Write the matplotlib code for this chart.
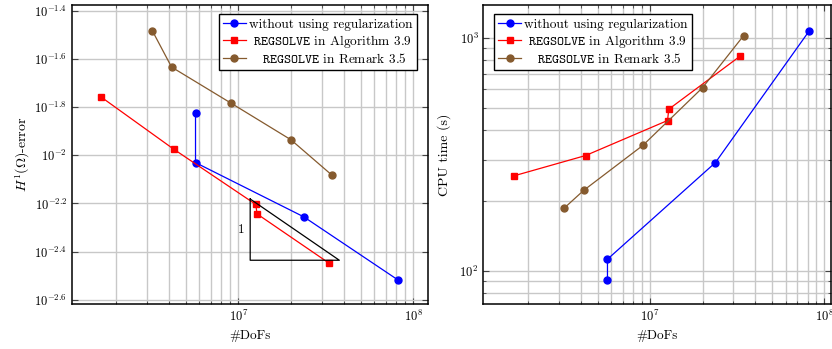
import numpy as np
import matplotlib
matplotlib.use("Agg")
import matplotlib.pyplot as plt
from matplotlib.ticker import FixedLocator, LogLocator, NullFormatter, FixedFormatter

plt.rcParams.update({
    "font.family": "cmr10",
    "mathtext.fontset": "cm",
    "axes.formatter.use_mathtext": True,
    "font.size": 9.5,
})

# Series: degrees of freedom, H1 error and CPU time
dofs_noreg = [5.70e6, 5.70e6, 2.37e7, 8.20e7]
err_noreg = [0.01507, 0.00933, 0.00555, 0.00303]
time_noreg = [91.5, 112, 291, 1072]

dofs_alg = [1.65e6, 4.27e6, 1.26e7, 1.28e7, 3.29e7]
err_alg = [0.01746, 0.01062, 0.00625, 0.00571, 0.00357]
time_alg = [255, 312, 441, 493, 834]

dofs_rem = [3.23e6, 4.16e6, 9.1e6, 2.0e7, 3.44e7]
err_rem = [0.03296, 0.02328, 0.01648, 0.01161, 0.00826]
time_rem = [186, 221, 345, 610, 1020]

labels = [
    "without using regularization",
    r" $\mathtt{REGSOLVE}$ in Algorithm 3.9",
    r"   $\mathtt{REGSOLVE}$ in Remark 3.5",
]

err_tick_exps = [-1.4, -1.6, -1.8, -2.0, -2.2, -2.4, -2.6]
err_tick_labels = [r"$10^{-1.4}$", r"$10^{-1.6}$", r"$10^{-1.8}$", r"$10^{-2}$",
                   r"$10^{-2.2}$", r"$10^{-2.4}$", r"$10^{-2.6}$"]

# Slope triangle (rate 1/2 in #DoFs)
tri_x0, tri_x1 = 1.17e7, 3.78e7
tri_ybot = 0.003664
tri_slope = 0.5

BLUE = "#0000ff"
RED = "#ff0000"
BROWN = "#855a2e"
GRID = "#c8c8c8"

fig = plt.figure(figsize=(8.32, 3.49), dpi=100)
ax1 = fig.add_axes([0.0865, 0.1289, 0.4279, 0.8567])
ax2 = fig.add_axes([0.5809, 0.1289, 0.4180, 0.8567])


def style_axes(ax):
    ax.set_xscale("log")
    ax.set_yscale("log")
    for s in ax.spines.values():
        s.set_linewidth(1.1)
        s.set_color("black")
    ax.tick_params(which="both", direction="in", top=True, right=True,
                   color="#444444", labelsize=9)
    ax.tick_params(which="major", length=4, width=0.8)
    ax.tick_params(which="minor", length=2.2, width=0.6)
    ax.xaxis.set_major_locator(LogLocator(base=10, numticks=10))
    ax.xaxis.set_minor_locator(LogLocator(base=10, subs=np.arange(2, 10), numticks=20))
    ax.xaxis.set_minor_formatter(NullFormatter())
    ax.set_axisbelow(True)
    ax.grid(which="both", axis="x", color=GRID, lw=1.0)
    ax.set_xlabel("#DoFs", labelpad=4)


def plot_series(ax, x1, y1, x2, y2, x3, y3):
    h1, = ax.plot(x1, y1, "-o", color=BLUE, lw=0.9, ms=5.0, label=labels[0])
    h2, = ax.plot(x2, y2, "-s", color=RED, lw=0.9, ms=4.4, label=labels[1])
    h3, = ax.plot(x3, y3, "-o", color=BROWN, lw=0.9, ms=5.0, label=labels[2])
    return [h1, h2, h3]


def add_legend(ax, handles, loc, anchor):
    leg = ax.legend(handles=handles, loc=loc, bbox_to_anchor=anchor, borderaxespad=0,
                    frameon=True, fancybox=False, edgecolor="black", framealpha=1,
                    borderpad=0.3, handlelength=1.7, handletextpad=0.25,
                    labelspacing=0.15, fontsize=9.6)
    leg.get_frame().set_linewidth(1.0)
    return leg


# Left: error versus DoFs
style_axes(ax1)
handles = plot_series(ax1, dofs_noreg, err_noreg, dofs_alg, err_alg, dofs_rem, err_rem)
ax1.set_xlim(10 ** 6.05, 10 ** 8.084)
ax1.set_ylim(10 ** -2.618, 10 ** -1.375)
ax1.yaxis.set_major_locator(FixedLocator([10 ** e for e in err_tick_exps]))
ax1.yaxis.set_major_formatter(FixedFormatter(err_tick_labels))
ax1.yaxis.set_minor_locator(FixedLocator([]))
ax1.grid(which="major", axis="y", color=GRID, lw=1.0)
ax1.set_ylabel(r"$H^1(\Omega)$-error", labelpad=2, fontsize=10)

tri_ytop = tri_ybot * (tri_x1 / tri_x0) ** tri_slope
ax1.plot([tri_x0, tri_x0, tri_x1, tri_x0], [tri_ytop, tri_ybot, tri_ybot, tri_ytop],
         color="black", lw=0.9)
ax1.annotate("1", xy=(tri_x0, np.sqrt(tri_ytop * tri_ybot)), xytext=(-4, 0),
             textcoords="offset points", ha="right", va="center", fontsize=9.5)

add_legend(ax1, handles, "upper right", (0.968, 0.969))

# Right: CPU time versus DoFs
style_axes(ax2)
plot_series(ax2, dofs_noreg, time_noreg, dofs_alg, time_alg, dofs_rem, time_rem)
ax2.set_xlim(10 ** 6.044, 10 ** 8.038)
ax2.set_ylim(10 ** 1.857, 10 ** 3.140)
ax2.yaxis.set_major_locator(LogLocator(base=10, numticks=10))
ax2.yaxis.set_minor_locator(LogLocator(base=10, subs=np.arange(2, 10), numticks=20))
ax2.yaxis.set_minor_formatter(NullFormatter())
ax2.grid(which="both", axis="y", color=GRID, lw=1.0)
ax2.set_ylabel("CPU time (s)", labelpad=6, fontsize=10)

add_legend(ax2, handles, "upper left", (0.0316, 0.969))

fig.savefig("out.png", dpi=100)
